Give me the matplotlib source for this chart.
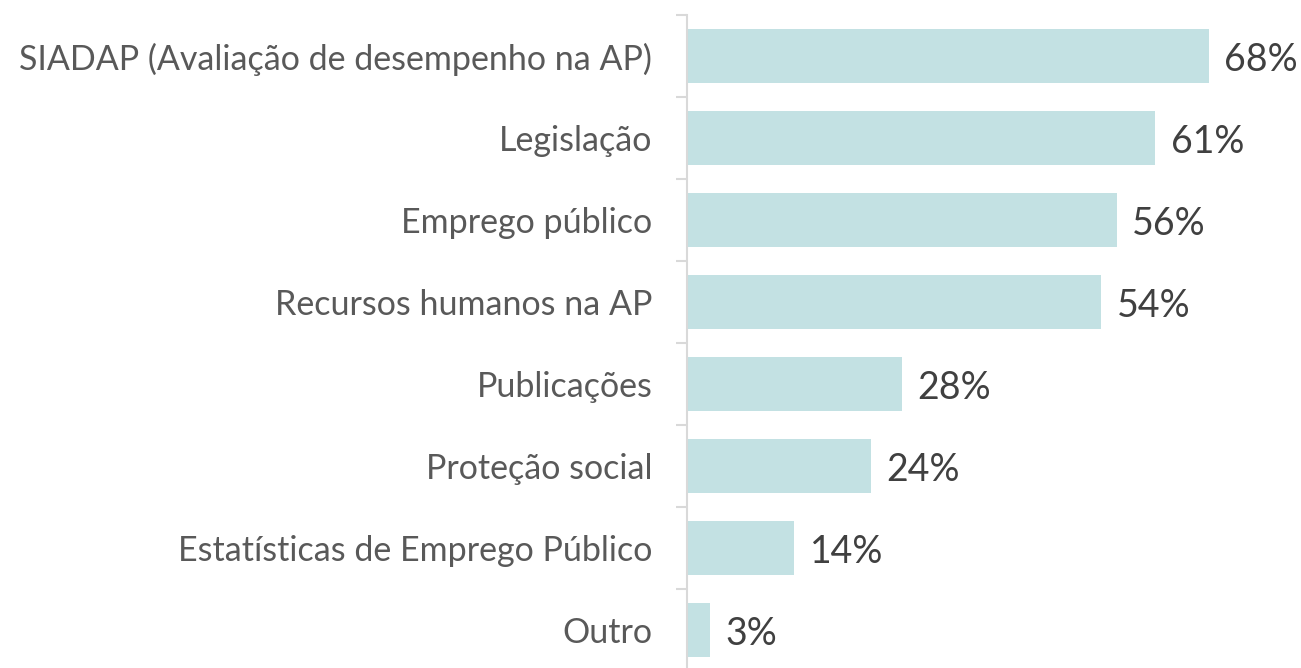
import matplotlib.pyplot as plt
import numpy as np

categories = ["SIADAP (Avaliação de desempenho na AP)", "Legislação", "Emprego público",
              "Recursos humanos na AP", "Publicações", "Proteção social",
              "Estatísticas de Emprego Público", "Outro"]
values = [68, 61, 56, 54, 28, 24, 14, 3]

plt.rcParams['font.family'] = ['Lato', 'DejaVu Sans']

fig = plt.figure(figsize=(13.01, 6.68), dpi=100)
ax = fig.add_axes([687/1301, 1 - 671/668, 614/1301, 656/668])

y = np.arange(len(categories))
ax.barh(y, values, height=0.66, color='#c3e1e3')
ax.set_ylim(len(categories) - 0.5, -0.5)
ax.set_xlim(0, 80)

ax.set_yticks(y)
ax.set_yticklabels(categories, fontsize=24.5, color='#595959')
ax.tick_params(axis='y', which='major', length=0, pad=25)
ax.set_yticks(np.arange(-0.5, len(categories), 1), minor=True)
ax.tick_params(axis='y', which='minor', length=8, width=1.5, color='#d9d9d9')
ax.set_xticks([])

for s in ['top', 'right', 'bottom']:
    ax.spines[s].set_visible(False)
ax.spines['left'].set_color('#d9d9d9')
ax.spines['left'].set_linewidth(1.5)

for yi, v in zip(y, values):
    ax.text(v + 2.0, yi + 0.05, f"{v}%", va='center', ha='left', fontsize=27, color='#404040')

fig.savefig('out.png', dpi=100)
